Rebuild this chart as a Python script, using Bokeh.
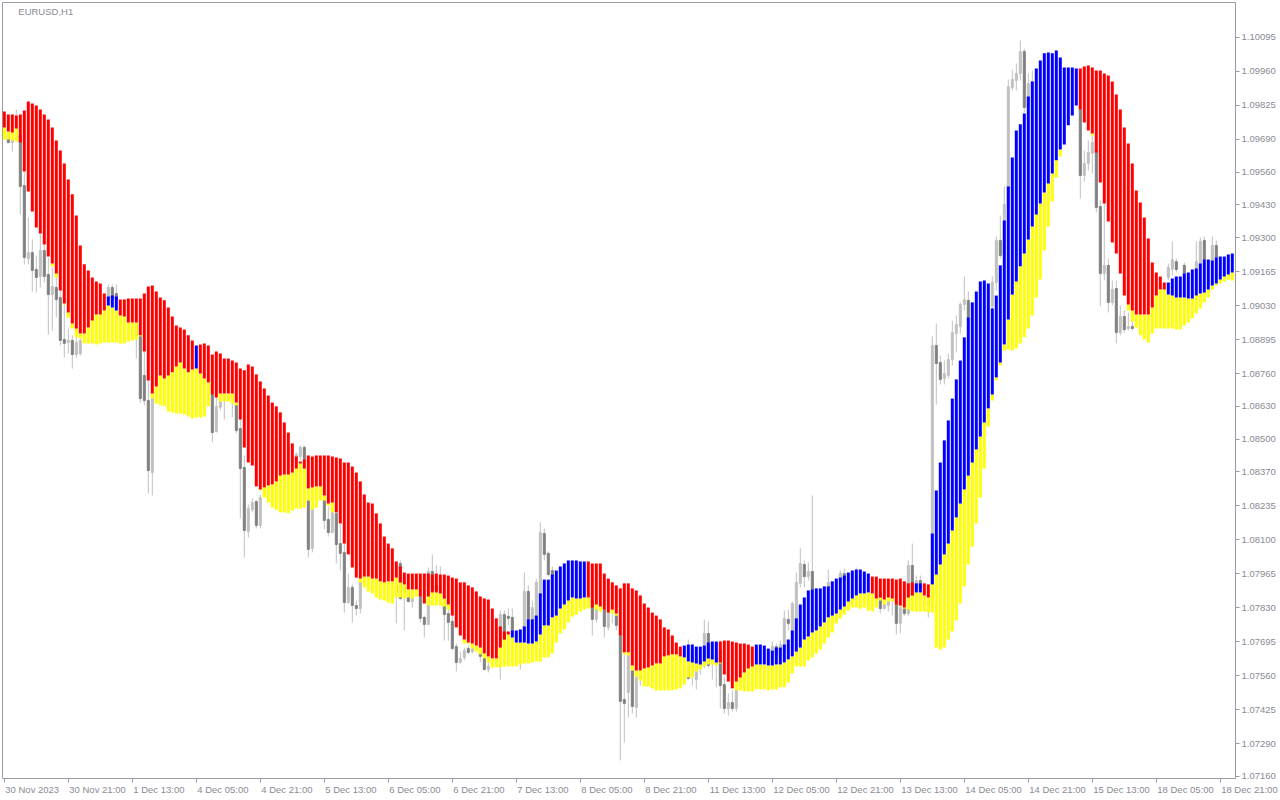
import numpy as np
from bokeh.plotting import figure
from bokeh.models import FixedTicker, Label, Range1d, PrintfTickFormatter, ColumnDataSource
from bokeh.embed import file_html
from bokeh.resources import INLINE

# ---------------- data (prices in points, 1 point = 0.00001) ----------------
POINT = 1e-5

# indicator: upper edge of the red/blue histogram bar
ind_top_pts = [
    109801, 109789, 109789, 109785, 109789, 109805, 109841, 109833, 109825, 109809,  # 0
    109789, 109769, 109738, 109686, 109646, 109595, 109531, 109472, 109388, 109269,  # 10
    109194, 109170, 109142, 109126, 109118, 109078, 109066, 109070, 109066, 109054,  # 20
    109054, 109058, 109058, 109058, 109058, 109078, 109106, 109110, 109086, 109062,  # 30
    109051, 109023, 108987, 108951, 108943, 108935, 108912, 108892, 108872, 108876,  # 40
    108880, 108872, 108836, 108848, 108840, 108820, 108820, 108812, 108804, 108780,  # 50
    108773, 108796, 108788, 108757, 108729, 108701, 108673, 108645, 108630, 108606,  # 60
    108566, 108526, 108483, 108431, 108411, 108419, 108435, 108431, 108435, 108435,  # 70
    108435, 108435, 108431, 108427, 108423, 108407, 108407, 108391, 108367, 108332,  # 80
    108280, 108248, 108244, 108205, 108165, 108113, 108085, 108066, 108014, 107994,  # 90
    107970, 107966, 107966, 107966, 107966, 107966, 107966, 107962, 107966, 107962,  # 100
    107962, 107958, 107950, 107946, 107931, 107931, 107919, 107911, 107895, 107875,  # 110
    107867, 107863, 107827, 107788, 107756, 107736, 107736, 107740, 107740, 107744,  # 120
    107756, 107784, 107784, 107799, 107887, 107942, 107942, 107962, 107978, 107994,  # 130
    108006, 108018, 108018, 108018, 108014, 108014, 108014, 108006, 108006, 108006,  # 140
    107966, 107946, 107931, 107919, 107907, 107927, 107927, 107907, 107899, 107879,  # 150
    107847, 107831, 107811, 107799, 107784, 107752, 107744, 107720, 107692, 107676,  # 160
    107680, 107684, 107684, 107676, 107676, 107680, 107692, 107696, 107696, 107696,  # 170
    107700, 107700, 107696, 107692, 107688, 107688, 107684, 107676, 107684, 107684,  # 180
    107680, 107668, 107660, 107672, 107672, 107684, 107704, 107740, 107788, 107843,  # 190
    107871, 107899, 107903, 107907, 107907, 107915, 107915, 107935, 107946, 107950,  # 200
    107958, 107970, 107978, 107982, 107982, 107974, 107966, 107954, 107954, 107946,  # 210
    107946, 107946, 107946, 107942, 107946, 107935, 107927, 107931, 107927, 107927,  # 220
    107927, 107923, 108125, 108296, 108407, 108495, 108574, 108661, 108737, 108812,  # 230
    108904, 108983, 109043, 109086, 109126, 109130, 109118, 109019, 109070, 109190,  # 240
    109368, 109503, 109618, 109726, 109750, 109793, 109861, 109920, 109972, 110004,  # 250
    110032, 110035, 110032, 110043, 110016, 109976, 109976, 109976, 109972, 109972,  # 260
    109980, 109984, 109976, 109964, 109964, 109952, 109944, 109920, 109869, 109809,  # 270
    109738, 109674, 109595, 109487, 109440, 109380, 109297, 109201, 109162, 109146,  # 280
    109122, 109122, 109138, 109146, 109146, 109158, 109162, 109174, 109178, 109197,  # 290
    109213, 109213, 109209, 109221, 109225, 109225, 109233, 109237,                  # 300
]

# indicator: lower edge of the red/blue bar = upper edge of the yellow bar
ind_mid_pts = [
    109738, 109722, 109718, 109734, 109678, 109563, 109483, 109404, 109340, 109317,
    109273, 109225, 109197, 109158, 109090, 109039, 109003, 108959, 108939, 108919,
    108919, 108943, 108971, 108995, 108995, 109011, 109031, 109023, 109011, 108991,
    108987, 108963, 108963, 108963, 108912, 108848, 108733, 108681, 108709, 108753,
    108741, 108753, 108765, 108788, 108804, 108780, 108765, 108776, 108780, 108761,
    108741, 108725, 108677, 108665, 108681, 108681, 108681, 108681, 108645, 108578,
    108467, 108407, 108395, 108312, 108300, 108308, 108316, 108320, 108332, 108355,
    108359, 108359, 108367, 108383, 108403, 108383, 108304, 108308, 108312, 108312,
    108276, 108244, 108248, 108209, 108165, 108085, 108042, 107990, 107950, 107946,
    107954, 107954, 107946, 107946, 107935, 107931, 107935, 107935, 107950, 107931,
    107923, 107903, 107903, 107903, 107875, 107847, 107875, 107891, 107891, 107887,
    107867, 107843, 107799, 107752, 107720, 107704, 107692, 107688, 107680, 107672,
    107649, 107637, 107629, 107629, 107672, 107704, 107724, 107712, 107692, 107692,
    107692, 107688, 107688, 107696, 107724, 107760, 107760, 107792, 107799, 107827,
    107843, 107859, 107871, 107867, 107867, 107871, 107871, 107831, 107843, 107835,
    107823, 107811, 107823, 107807, 107720, 107653, 107653, 107601, 107581, 107581,
    107589, 107593, 107601, 107609, 107609, 107637, 107641, 107645, 107645, 107637,
    107633, 107617, 107613, 107609, 107605, 107617, 107629, 107625, 107613, 107613,
    107565, 107537, 107510, 107537, 107553, 107573, 107589, 107597, 107605, 107605,
    107605, 107601, 107601, 107605, 107605, 107613, 107625, 107637, 107656, 107672,
    107704, 107716, 107732, 107740, 107756, 107772, 107792, 107799, 107807, 107823,
    107835, 107855, 107867, 107879, 107887, 107887, 107891, 107887, 107867, 107871,
    107863, 107871, 107867, 107843, 107839, 107831, 107871, 107879, 107891, 107891,
    107879, 107871, 107923, 107962, 108002, 108042, 108085, 108137, 108189, 108244,
    108300, 108355, 108407, 108459, 108510, 108566, 108622, 108677, 108745, 108804,
    108876, 108975, 109074, 109126, 109186, 109237, 109293, 109344, 109392, 109436,
    109479, 109515, 109555, 109607, 109650, 109670, 109746, 109785, 109825, 109809,
    109757, 109726, 109714, 109638, 109519, 109436, 109364, 109281, 109237, 109158,
    109070, 109035, 109011, 108995, 108995, 108995, 108995, 109023, 109070, 109094,
    109094, 109074, 109070, 109062, 109062, 109062, 109058, 109058, 109070, 109078,
    109082, 109094, 109110, 109118, 109134, 109146, 109154, 109162,
]

# indicator: lower edge of the yellow bar
ind_low_pts = [
    109690, 109690, 109686, 109682, 109678, 109563, 109483, 109404, 109340, 109317,
    109273, 109225, 109186, 109142, 109090, 109035, 108983, 108939, 108904, 108900,
    108880, 108880, 108880, 108876, 108880, 108884, 108884, 108884, 108884, 108880,
    108880, 108888, 108892, 108896, 108908, 108848, 108733, 108661, 108641, 108634,
    108630, 108610, 108606, 108602, 108602, 108598, 108590, 108582, 108586, 108586,
    108590, 108630, 108677, 108665, 108649, 108649, 108649, 108641, 108634, 108578,
    108467, 108407, 108395, 108312, 108296, 108268, 108248, 108228, 108220, 108209,
    108209, 108205, 108216, 108224, 108224, 108228, 108256, 108220, 108228, 108256,
    108256, 108236, 108209, 108209, 108165, 108085, 108042, 107990, 107950, 107931,
    107911, 107895, 107887, 107871, 107863, 107859, 107851, 107847, 107871, 107871,
    107867, 107871, 107867, 107875, 107875, 107847, 107839, 107839, 107839, 107839,
    107835, 107823, 107799, 107752, 107720, 107688, 107688, 107668, 107656, 107645,
    107629, 107613, 107593, 107593, 107593, 107597, 107597, 107597, 107597, 107605,
    107609, 107609, 107613, 107617, 107617, 107633, 107633, 107649, 107692, 107728,
    107744, 107772, 107795, 107803, 107815, 107823, 107827, 107831, 107823, 107815,
    107823, 107811, 107807, 107799, 107720, 107645, 107641, 107581, 107557, 107541,
    107517, 107517, 107510, 107502, 107502, 107502, 107502, 107502, 107506, 107510,
    107525, 107553, 107553, 107577, 107585, 107597, 107605, 107605, 107601, 107609,
    107565, 107537, 107510, 107502, 107502, 107498, 107498, 107498, 107506, 107506,
    107506, 107502, 107506, 107506, 107514, 107514, 107533, 107569, 107597, 107597,
    107597, 107621, 107633, 107649, 107664, 107688, 107712, 107732, 107768, 107788,
    107803, 107819, 107831, 107831, 107827, 107831, 107819, 107815, 107831, 107859,
    107843, 107855, 107855, 107843, 107835, 107827, 107823, 107815, 107815, 107815,
    107815, 107811, 107811, 107672, 107664, 107672, 107704, 107736, 107780, 107847,
    107915, 108002, 108073, 108165, 108268, 108383, 108550, 108653, 108733, 108792,
    108852, 108856, 108852, 108860, 108880, 108904, 108939, 108991, 109062, 109134,
    109249, 109344, 109444, 109539, 109622, 109670, 109746, 109785, 109825, 109809,
    109757, 109726, 109706, 109638, 109519, 109436, 109364, 109281, 109237, 109158,
    109070, 109011, 108967, 108943, 108912, 108896, 108884, 108919, 108939, 108939,
    108939, 108939, 108939, 108935, 108935, 108951, 108963, 108979, 108999, 109019,
    109043, 109062, 109094, 109110, 109118, 109126, 109134, 109130,
]

# indicator colour state, run-length: (state, number of bars)
trend_runs = [("down", 26), ("up", 3), ("down", 19), ("up", 1), ("down", 78),
              ("up", 19), ("down", 24), ("up", 9), ("down", 9), ("up", 29),
              ("down", 11), ("up", 2), ("down", 2), ("up", 37), ("down", 22), ("up", 17)]

_ = None  # candle hidden behind the indicator (not readable)
open_pts = [
    _, 109714, 109678, 109690, 109706, 109507, 109217, 109241, 109174, 109146,
    109249, 109154, 109074, 109102, 109062, 108896, 108884, 108892, 108836, 108840,
    _, _, _, _, _, _, 109051, 109102, 109078, _,
    _, _, _, 108951, 108908, 108753, 108653, 108367, _, _,
    _, _, _, _, _, _, _, _, _, _,
    _, _, 108677, 108530, 108626, 108653, _, 108661, 108634, 108542,
    108387, 108133, 108220, 108252, 108157, _, _, _, _, _,
    _, _, _, 108407, 108431, 108467, 108256, 108066, _, _,
    108256, 108181, 108129, 108205, 108085, 108050, 107851, 107911, 107839, 107827,
    _, _, _, _, _, _, _, _, 107919, 108006,
    107919, 107899, 107855, _, 107875, 107792, 107764, 107974, 107919, 107899,
    107867, 107807, 107776, 107676, 107613, 107633, 107668, 107656, _, 107653,
    107629, 107585, _, _, 107660, 107803, 107796, 107792, _, 107668,
    107700, 107895, 107740, 107780, 107879, 108125, 108046, 107978, _, _,
    _, _, _, _, _, _, _, 107859, 107784, _,
    107823, 107752, 107827, 107799, 107720, 107466, 107494, 107581, 107434, 107561,
    _, _, _, _, _, _, _, _, _, _,
    _, 107601, 107557, 107545, 107589, 107601, 107728, 107617, 107605, 107660,
    107525, 107430, 107454, 107430, _, _, _, _, _, _,
    _, _, 107621, 107676, 107641, 107660, 107784, 107740, 107788, 107927,
    108002, 107954, 107974, _, _, _, 107899, _, _, 107919,
    107966, _, _, 107938, _, _, _, _, _, 107891,
    107827, 107839, 107859, 107843, 107768, 107827, 107807, 107998, 107899, 107938,
    _, 107859, 107859, 108872, 108804, 108741, 108753, 108816, 108919, 108947,
    109035, 109051, _, _, _, _, _, 109027, 109122, 109289,
    109229, 109420, 109896, 109924, 109952, 110039, 109817, 109912, _, _,
    _, _, _, _, _, _, _, _, _, 109809,
    109547, 109595, 109634, 109646, 109424, 109158, 109190, 109043, 109098, 108923,
    108987, 108939, 108947, _, _, _, _, _, _, _,
    _, 109142, 109174, 109205, _, 109190, _, _, 109178, 109197,
    109289, _, 109209, 109269, _, _, _, _,
]
high_pts = [
    _, 109734, 109726, 109809, 109734, 109563, 109380, 109293, 109229, 109317,
    109273, 109221, 109182, 109142, 109102, 109039, 108939, 108912, 108904, 108900,
    _, _, _, _, _, _, 109114, 109114, 109114, _,
    _, _, _, 108971, 108931, 108848, 108733, 108673, _, _,
    _, _, _, _, _, _, _, _, _, _,
    _, _, 108693, 108665, 108661, 108673, _, 108673, 108653, 108594,
    108435, 108240, 108264, 108256, 108280, _, _, _, _, _,
    _, _, _, 108447, 108475, 108475, 108268, 108236, _, _,
    108264, 108232, 108216, 108209, 108165, 108085, 107966, 107923, 107859, 107938,
    _, _, _, _, _, _, _, _, 107958, 108018,
    107946, 107919, 107962, _, 107899, 107799, 107990, 108042, 107998, 107994,
    107899, 107839, 107799, 107688, 107656, 107672, 107680, 107680, _, 107668,
    107653, 107621, _, _, 107819, 107819, 107827, 107827, _, 107700,
    107970, 107919, 107859, 107946, 108169, 108145, 108054, 107994, _, _,
    _, _, _, _, _, _, _, 107879, 107839, _,
    107859, 107827, 107859, 107819, 107740, 107645, 107653, 107601, 107573, 107581,
    _, _, _, _, _, _, _, _, _, _,
    _, 107704, 107688, 107660, 107641, 107784, 107776, 107660, 107660, 107700,
    107557, 107490, 107502, 107517, _, _, _, _, _, _,
    _, _, 107696, 107688, 107700, 107819, 107823, 107855, 107970, 108066,
    108018, 108010, 108276, _, _, _, 107982, _, _, 107978,
    107986, _, _, 107990, _, _, _, _, _, 107946,
    107879, 107879, 107879, 107899, 107859, 107859, 108018, 108085, 107958, 107958,
    _, 107899, 108908, 108959, 108832, 108812, 108840, 108971, 108991, 109043,
    109146, 109086, _, _, _, _, _, 109146, 109305, 109388,
    109503, 109928, 109968, 109992, 110083, 110051, 109952, 109964, _, _,
    _, _, _, _, _, _, _, _, _, 109845,
    109646, 109686, 109706, 109686, 109448, 109475, 109217, 109130, 109130, 109031,
    109011, 109003, 108967, _, _, _, _, _, _, _,
    _, 109197, 109285, 109217, _, 109201, _, _, 109285, 109301,
    109305, _, 109305, 109289, _, _, _, _,
]
low_pts = [
    _, 109674, 109642, 109682, 109392, 109194, 109194, 109086, 109082, 109102,
    109122, 108915, 108931, 108983, 108872, 108824, 108840, 108780, 108824, 108832,
    _, _, _, _, _, _, 109031, 109031, 109031, _,
    _, _, _, 108820, 108645, 108634, 108284, 108276, _, _,
    _, _, _, _, _, _, _, _, _, _,
    _, _, 108487, 108526, 108614, 108578, _, 108586, 108522, 108185,
    108030, 108109, 108209, 108145, 108145, _, _, _, _, _,
    _, _, _, 108391, 108415, 108375, 108030, 108050, _, _,
    108141, 108113, 108125, 108006, 107978, 107811, 107847, 107772, 107799, 107807,
    _, _, _, _, _, _, _, _, 107768, 107859,
    107740, 107851, 107831, _, 107772, 107712, 107760, 107859, 107879, 107867,
    107700, 107700, 107660, 107577, 107609, 107621, 107645, 107649, _, 107613,
    107581, 107573, _, _, 107545, 107660, 107760, 107720, _, 107585,
    107680, 107740, 107720, 107760, 107859, 108018, 107954, 107938, _, _,
    _, _, _, _, _, _, _, 107720, 107772, _,
    107712, 107740, 107768, 107740, 107224, 107295, 107394, 107410, 107394, 107521,
    _, _, _, _, _, _, _, _, _, _,
    _, 107545, 107521, 107506, 107565, 107589, 107593, 107545, 107514, 107430,
    107410, 107402, 107418, 107418, _, _, _, _, _, _,
    _, _, 107601, 107621, 107621, 107641, 107740, 107720, 107760, 107911,
    107911, 107938, 107891, _, _, _, 107891, _, _, 107899,
    107919, _, _, 107899, _, _, _, _, _, 107807,
    107823, 107815, 107799, 107724, 107728, 107799, 107799, 107859, 107879, 107891,
    _, 107792, 107811, 108637, 108717, 108717, 108741, 108792, 108844, 108919,
    109011, 108971, _, _, _, _, _, 109011, 109090, 109217,
    109209, 109388, 109885, 109885, 109924, 109797, 109805, 109873, _, _,
    _, _, _, _, _, _, _, _, _, 109456,
    109523, 109567, 109555, 109400, 109027, 109130, 109003, 109031, 108880, 108912,
    108923, 108931, 108931, _, _, _, _, _, _, _,
    _, 109130, 109150, 109162, _, 109150, _, _, 109170, 109190,
    109201, _, 109201, 109217, _, _, _, _,
]
close_pts = [
    _, 109678, 109694, 109718, 109503, 109221, 109241, 109170, 109142, 109249,
    109146, 109074, 109106, 109054, 108892, 108880, 108892, 108836, 108884, 108892,
    _, _, _, _, _, _, 109102, 109058, 109054, _,
    _, _, _, 108912, 108661, 108653, 108375, 108661, _, _,
    _, _, _, _, _, _, _, _, _, _,
    _, _, 108526, 108630, 108649, 108669, _, 108669, 108534, 108383,
    108137, 108224, 108248, 108157, 108268, _, _, _, _, _,
    _, _, _, 108439, 108467, 108419, 108062, 108220, _, _,
    108177, 108129, 108209, 108081, 108046, 107851, 107911, 107839, 107827, 107931,
    _, _, _, _, _, _, _, _, 107891, 107867,
    107891, 107855, 107867, _, 107788, 107764, 107974, 107899, 107899, 107919,
    107803, 107772, 107668, 107613, 107629, 107660, 107653, 107668, _, 107637,
    107585, 107597, _, _, 107803, 107700, 107788, 107740, _, 107680,
    107895, 107784, 107831, 107931, 108129, 108042, 107962, 107958, _, _,
    _, _, _, _, _, _, _, 107784, 107823, _,
    107756, 107811, 107839, 107760, 107458, 107450, 107641, 107438, 107553, 107549,
    _, _, _, _, _, _, _, _, _, _,
    _, 107549, 107660, 107621, 107621, 107728, 107601, 107641, 107637, 107521,
    107430, 107454, 107430, 107502, _, _, _, _, _, _,
    _, _, 107676, 107641, 107684, 107788, 107768, 107847, 107931, 108006,
    107954, 107974, 107903, _, _, _, 107931, _, _, 107966,
    107938, _, _, 107958, _, _, _, _, _, 107827,
    107843, 107855, 107863, 107768, 107831, 107807, 107998, 107879, 107938, 107907,
    _, 107839, 108872, 108800, 108737, 108761, 108816, 108923, 108955, 109035,
    109054, 108983, _, _, _, _, _, 109122, 109289, 109229,
    109432, 109900, 109928, 109952, 110039, 109817, 109912, 109920, _, _,
    _, _, _, _, _, _, _, _, _, 109547,
    109595, 109638, 109678, 109420, 109158, 109190, 109043, 109094, 108923, 108987,
    108935, 108947, 108939, _, _, _, _, _, _, _,
    _, 109182, 109213, 109174, _, 109158, _, _, 109205, 109285,
    109213, _, 109269, 109221, _, _, _, _,
]

time_labels = ["30 Nov 2023", "30 Nov 21:00", "1 Dec 13:00", "4 Dec 05:00", "4 Dec 21:00",
               "5 Dec 13:00", "6 Dec 05:00", "6 Dec 21:00", "7 Dec 13:00", "8 Dec 05:00",
               "8 Dec 21:00", "11 Dec 13:00", "12 Dec 05:00", "12 Dec 21:00", "13 Dec 13:00",
               "14 Dec 05:00", "14 Dec 21:00", "15 Dec 13:00", "18 Dec 05:00", "18 Dec 21:00"]
price_labels = ["1.10095", "1.09960", "1.09825", "1.09690", "1.09560", "1.09430", "1.09300",
                "1.09165", "1.09030", "1.08895", "1.08760", "1.08630", "1.08500", "1.08370",
                "1.08235", "1.08100", "1.07965", "1.07830", "1.07695", "1.07560", "1.07425",
                "1.07290", "1.07160"]
symbol_title = "EURUSD,H1"
BARS_PER_LABEL = 16

# ---------------- build ----------------
N = len(ind_top_pts)
assert all(len(a) == N for a in (ind_mid_pts, ind_low_pts, open_pts, high_pts, low_pts, close_pts))
trend = []
for state, n in trend_runs:
    trend += [state] * n
assert len(trend) == N


def prices(lst):
    return np.array([np.nan if v is None else v * POINT for v in lst], dtype=float)


idx = np.arange(N)
top, mid, bot = prices(ind_top_pts), prices(ind_mid_pts), prices(ind_low_pts)
o, h, l, c = prices(open_pts), prices(high_pts), prices(low_pts), prices(close_pts)

GRAY_TXT = "#8a8a96"
GRAY_LINE = "#9a9aa4"
FONT = "Liberation Sans"
FS_PX = 9.5
FS = f"{FS_PX}px"
Y0, Y1 = 1.07152, 1.10234
X0, X1 = -0.45, 307.8
FRAME_W, FRAME_H = 1233, 776

p = figure(frame_width=FRAME_W, frame_height=FRAME_H, output_backend="svg", toolbar_location=None,
           x_range=Range1d(X0, X1), y_range=Range1d(Y0, Y1),
           y_axis_location="right", min_border_left=2, min_border_top=2,
           min_border_right=0, min_border_bottom=0)
p.background_fill_color = "white"
p.border_fill_color = "white"
p.outline_line_color = GRAY_LINE
p.outline_line_width = 1
p.xgrid.visible = False
p.ygrid.visible = False

# candles (drawn first, the indicator is on top of them)
cm = ~np.isnan(o)
bull = cm & (c >= o)
bear = cm & (c < o)
p.segment(x0=idx[cm], y0=l[cm], x1=idx[cm], y1=h[cm], line_color="#C0C0C0", line_width=1)
for mask, col in ((bull, "#C0C0C0"), (bear, "#808080")):
    src = ColumnDataSource(dict(x=idx[mask], top=np.maximum(o[mask], c[mask]),
                                bottom=np.minimum(o[mask], c[mask])))
    p.vbar(x="x", top="top", bottom="bottom", width=0.5, source=src,
           fill_color=col, line_color=col, line_width=1)

# yellow histogram
ym = bot < mid
p.vbar(x=idx[ym], top=mid[ym], bottom=bot[ym], width=0.75,
       fill_color="#FFFF00", line_color=None)

# red / blue histogram
tr = np.array(trend)
for state, col in (("down", "#FF0000"), ("up", "#0000FF")):
    m = tr == state
    p.vbar(x=idx[m], top=top[m], bottom=mid[m], width=0.75,
           fill_color=col, line_color=None)

# ---- time axis: tick marks (minor ticks) at the bars, MT4-style labels left-aligned
# just to the right of each tick (major ticks, invisible, at each label's centre)
tick_pos = [i * BARS_PER_LABEL for i in range(len(time_labels))]
CHAR_EM = {d: 0.556 for d in "0123456789"}
CHAR_EM.update({" ": 0.278, ":": 0.278, ".": 0.278, "N": 0.722, "o": 0.556,
                "v": 0.5, "D": 0.722, "e": 0.556, "c": 0.5})
NBSP = "\u00a0"
px_per_bar = FRAME_W / (X1 - X0)
x_max_center = X1 - 0.6 / px_per_bar
centers, shown = [], []
for tp, t in zip(tick_pos, time_labels):
    w = sum(CHAR_EM.get(ch, 0.556) for ch in t) * FS_PX
    cx = tp + (1.0 + w / 2.0) / px_per_bar
    txt = t
    if cx > x_max_center:  # would fall past the frame: centre it inside, pad on the left
        excess_px = (cx - x_max_center) * px_per_bar
        k = int(round(2.0 * excess_px / (0.278 * FS_PX)))
        txt = NBSP * k + t
        cx = x_max_center
    centers.append(float(cx))
    shown.append(txt)

xa = p.xaxis[0]
xa.ticker = FixedTicker(ticks=centers, minor_ticks=tick_pos)
xa.major_label_overrides = {cx: t for cx, t in zip(centers, shown)}
xa.axis_line_color = None
xa.major_tick_line_color = None
xa.major_tick_in = 0
xa.major_tick_out = 4
xa.minor_tick_line_color = GRAY_LINE
xa.minor_tick_in = 0
xa.minor_tick_out = 4
xa.major_label_standoff = 1
xa.major_label_text_font = FONT
xa.major_label_text_font_size = FS
xa.major_label_text_color = GRAY_TXT

# ---- price axis (right)
ya = p.yaxis[0]
ya.ticker = FixedTicker(ticks=[float(s) for s in price_labels])
ya.formatter = PrintfTickFormatter(format="%.5f")
ya.axis_line_color = None
ya.major_tick_line_color = GRAY_LINE
ya.major_tick_in = 0
ya.major_tick_out = 4
ya.minor_tick_line_color = None
ya.major_label_text_font = FONT
ya.major_label_text_font_size = FS
ya.major_label_standoff = 2
ya.major_label_text_color = GRAY_TXT

p.add_layout(Label(x=3.5, y=1.10220, text=symbol_title, text_font=FONT, text_font_size=FS,
                   text_color=GRAY_TXT, text_baseline="top"))

open("out.html", "w").write(file_html(p, INLINE))
